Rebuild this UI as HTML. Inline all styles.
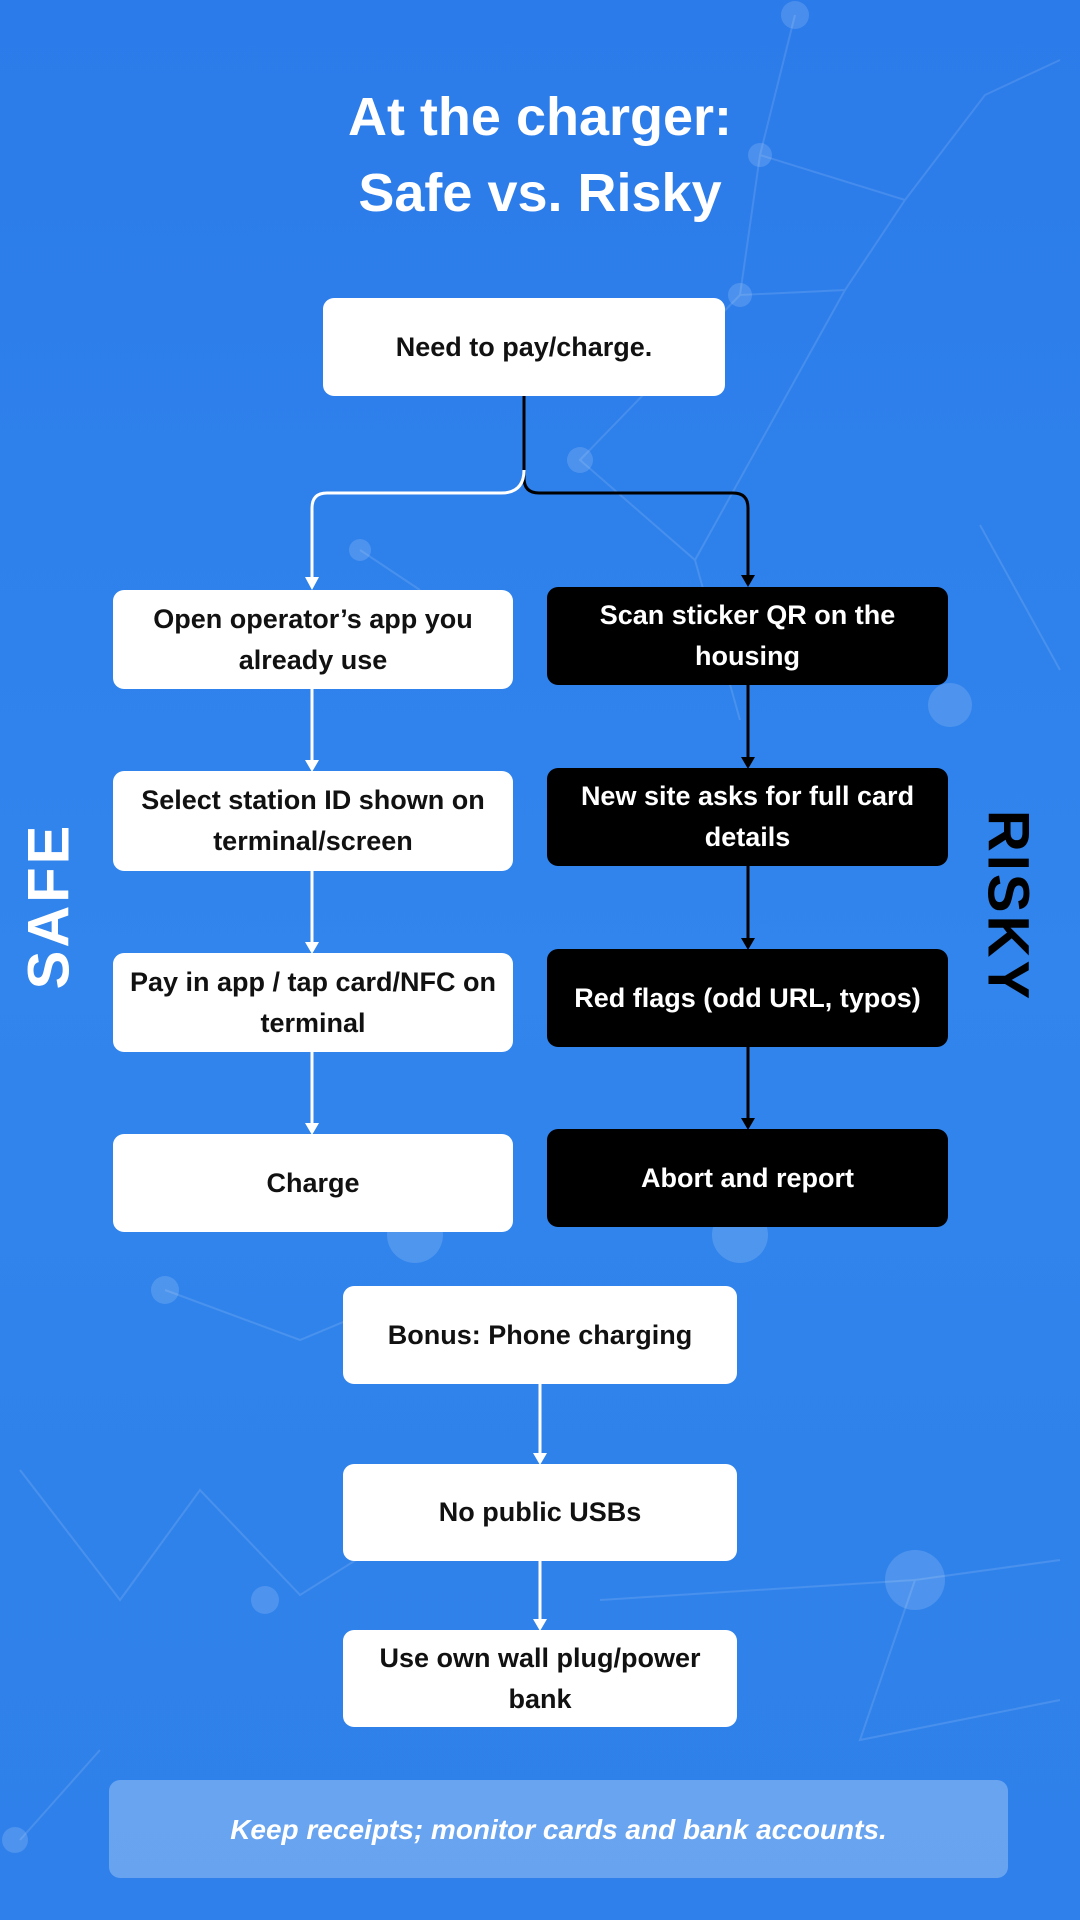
<!DOCTYPE html>
<html><head><meta charset="utf-8"><style>
body{margin:0;width:1080px;height:1920px;overflow:hidden;font-family:"Liberation Sans",sans-serif;}
#bg{position:absolute;left:0;top:0;width:1080px;height:1920px;background:linear-gradient(180deg,#2b7bea 0%,#3185ec 50%,#2f80ea 100%);}
.b{position:absolute;display:flex;align-items:center;justify-content:center;text-align:center;border-radius:11px;font-weight:bold;font-size:27px;line-height:41px;box-sizing:border-box;padding:0 8px;}
.w{background:#fff;color:#111;}
.k{background:#000;color:#fff;}
.t{position:absolute;left:0;width:1050px;text-align:center;color:#fff;font-weight:bold;font-size:54px;}
.v{position:absolute;color:#fff;font-weight:bold;font-size:58px;letter-spacing:3px;}
</style></head><body>
<div id="bg"></div>
<svg width="1080" height="1920" style="position:absolute;left:0;top:0">
<g stroke="rgba(255,255,255,0.12)" stroke-width="2" fill="none">
<path d="M795 15 L760 155 L905 200 L985 95 L1060 60 M760 155 L740 295 L845 290 L905 200 M740 295 L580 460 L695 560 L845 290 M980 525 L1060 670 M360 550 L420 590 M695 560 L740 720 M20 1470 L120 1600 L200 1490 L300 1595 L420 1520 M600 1600 L915 1580 L1060 1560 M915 1580 L860 1740 L1060 1700 M100 1750 L20 1840 M165 1290 L300 1340 L420 1290"/>
</g>
<g fill="rgba(255,255,255,0.15)">
<circle cx="795" cy="15" r="14"/><circle cx="760" cy="155" r="12"/><circle cx="740" cy="295" r="12"/><circle cx="580" cy="460" r="13"/><circle cx="950" cy="705" r="22"/><circle cx="915" cy="1580" r="30"/><circle cx="165" cy="1290" r="14"/><circle cx="740" cy="1235" r="28"/><circle cx="415" cy="1235" r="28"/><circle cx="265" cy="1600" r="14"/><circle cx="360" cy="550" r="11"/><circle cx="15" cy="1840" r="13"/>
</g>
<g fill="none" stroke-width="3">
<path d="M524 396 V478 Q524 493 539 493 H733 Q748 493 748 508 V578" stroke="#000"/>
<path d="M524 470 Q524 493 501 493 H327 Q312 493 312 508 V580" stroke="#fff"/>
<path d="M312 689 V763 M312 871 V945 M312 1052 V1126 M540 1384 V1456 M540 1561 V1622" stroke="#fff"/>
<path d="M748 685 V760 M748 866 V941 M748 1047 V1121" stroke="#000"/>
</g>
<g fill="#fff">
<path d="M305 577 L319 577 L312 590Z M305 760 L319 760 L312 772Z M305 942 L319 942 L312 954Z M305 1123 L319 1123 L312 1135Z M533 1453 L547 1453 L540 1465Z M533 1619 L547 1619 L540 1631Z"/>
</g>
<g fill="#000">
<path d="M741 575 L755 575 L748 587Z M741 757 L755 757 L748 769Z M741 938 L755 938 L748 950Z M741 1118 L755 1118 L748 1130Z"/>
</g>
</svg>
<div class="t" style="top:86px;left:15px">At the charger:</div>
<div class="t" style="top:162px;left:15px">Safe vs. Risky</div>
<div class="b w" style="left:323px;top:298px;width:402px;height:98px">Need to pay/charge.</div>
<div class="b w" style="left:113px;top:590px;width:400px;height:99px">Open operator’s app you already use</div>
<div class="b w" style="left:113px;top:771px;width:400px;height:100px">Select station ID shown on terminal/screen</div>
<div class="b w" style="left:113px;top:953px;width:400px;height:99px">Pay in app / tap card/NFC on terminal</div>
<div class="b w" style="left:113px;top:1134px;width:400px;height:98px">Charge</div>
<div class="b k" style="left:547px;top:587px;width:401px;height:98px">Scan sticker QR on the housing</div>
<div class="b k" style="left:547px;top:768px;width:401px;height:98px">New site asks for full card details</div>
<div class="b k" style="left:547px;top:949px;width:401px;height:98px">Red flags (odd URL, typos)</div>
<div class="b k" style="left:547px;top:1129px;width:401px;height:98px">Abort and report</div>
<div class="b w" style="left:343px;top:1286px;width:394px;height:98px">Bonus: Phone charging</div>
<div class="b w" style="left:343px;top:1464px;width:394px;height:97px">No public USBs</div>
<div class="b w" style="left:343px;top:1630px;width:394px;height:97px">Use own wall plug/power bank</div>
<div class="b" style="left:109px;top:1780px;width:899px;height:98px;background:rgba(255,255,255,0.28);color:#fff;font-style:italic;font-size:28px">Keep receipts; monitor cards and bank accounts.</div>
<div class="v" style="left:49px;top:906px;transform:translate(-50%,-50%) rotate(-90deg)">SAFE</div>
<div class="v" style="left:1008px;top:906px;transform:translate(-50%,-50%) rotate(90deg);color:#000">RISKY</div>
</body></html>
